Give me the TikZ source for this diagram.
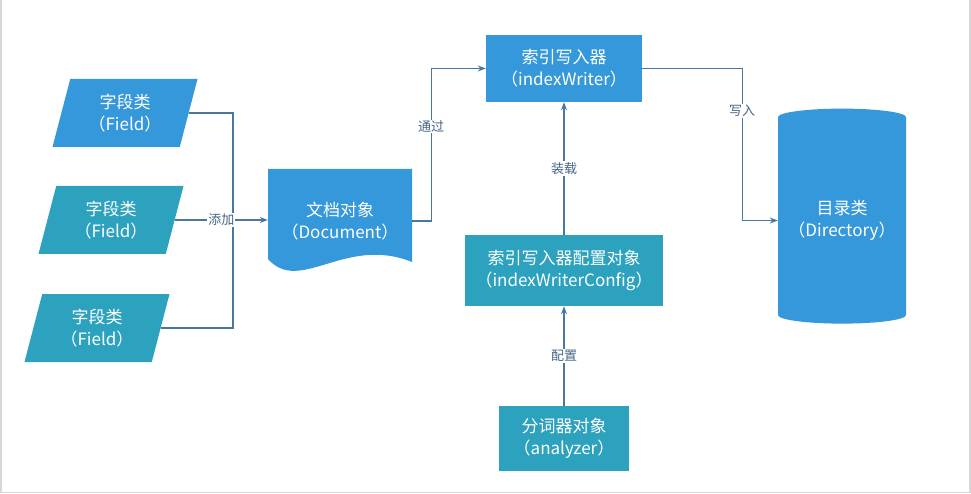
\documentclass[tikz,border=0pt]{standalone}
\usepackage{fontspec}
\setmainfont{Noto Sans CJK SC}
\usetikzlibrary{shapes.geometric,arrows.meta}
\definecolor{boxblue}{RGB}{52,152,219}
\definecolor{boxteal}{RGB}{44,162,190}
\definecolor{linkblue}{RGB}{72,120,160}
\definecolor{labelblue}{RGB}{70,100,135}
\definecolor{framegray}{RGB}{215,215,215}
\tikzset{
  obj/.style={fill=boxblue, text=white, align=center, inner sep=0pt, font=\fontsize{17}{22}\selectfont},
  tealobj/.style={obj, fill=boxteal},
  field/.style={trapezium, trapezium left angle=65, trapezium right angle=115, trapezium stretches body, minimum width=145, minimum height=68},
  link/.style={draw=linkblue, line width=1.2pt},
  lbl/.style={fill=white, text=labelblue, inner sep=1pt, font=\fontsize{13}{15}\selectfont},
}
\begin{document}
\begin{tikzpicture}[x=1pt, y=-1pt, >={Stealth[length=8pt,width=6pt]}]
                \useasboundingbox (0,0) rectangle (971,494);
                \draw[framegray, line width=1.5pt] (1,0) -- (1,492.5) -- (970,492.5) -- (970,0);

                \node[obj, field] (f1) at (125,113) {字段类\\（Field）};
                \node[tealobj, field] (f2) at (111,220) {字段类\\（Field）};
                \node[tealobj, field] (f3) at (97,328) {字段类\\（Field）};
                \coordinate (join) at (233,220);

                \fill[boxblue] (268,169) -- (412,169) -- (412,262) .. controls (345,235) and (300,295) .. (268,259) -- cycle;
                \node[obj, fill=none, minimum width=144, minimum height=80] (doc) at (340,221) {文档对象\\（Document）};

                \node[obj, minimum width=156, minimum height=67] (iw) at (564,68.5) {索引写入器\\（indexWriter）};
                \node[tealobj, minimum width=198, minimum height=71] (cfg) at (564,270.5) {索引写入器配置对象\\（indexWriterConfig）};
                \node[tealobj, minimum width=130, minimum height=65] (ana) at (564,438.5) {分词器对象\\（analyzer）};
                \node[obj, cylinder, shape border rotate=90, aspect=0.16, minimum width=128, minimum height=215] (dir) at (842,220.5) {目录类\\（Directory）};

                \draw[link] (f1.east) -| (join);
                \draw[link] (f3.east) -| (join);
                \draw[link,->] (f2.east) -- node[lbl] {添加} (f2.east -| doc.west);
                \draw[link,->] (doc.east) -- ++(19,0) |- node[lbl, pos=0.31] {通过} (iw.west);
                \draw[link,->] (cfg) -- node[lbl] {装载} (iw);
                \draw[link,->] (ana) -- node[lbl] {配置} (cfg);
                \draw[link,->] (iw.east) -- ++(100,0) |- node[lbl, pos=0.14] {写入} (dir.west);
            \end{tikzpicture}
\end{document}
